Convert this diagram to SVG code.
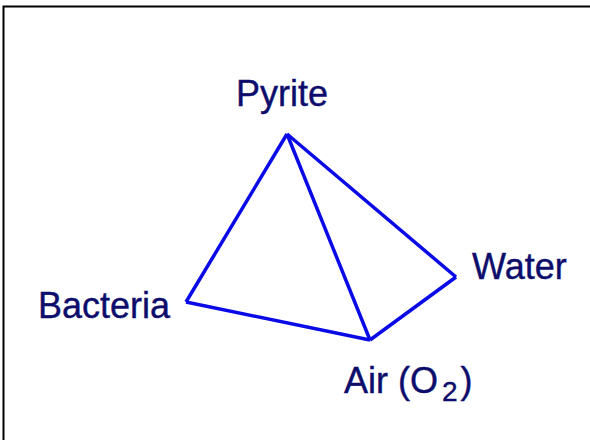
<svg xmlns="http://www.w3.org/2000/svg" width="590" height="440" viewBox="0 0 590 440">
<style>
.lbl{font-family:"Liberation Sans",Arial,sans-serif;font-size:36px;fill:#0d0d6b;stroke:#0d0d6b;stroke-width:0.4}
.edge{stroke:#0a0ae6;stroke-width:3.5;fill:none;stroke-linejoin:miter}
</style>
<rect x="0" y="0" width="590" height="440" fill="#ffffff"/>
<rect x="3.5" y="6.5" width="600" height="450" fill="none" stroke="#000" stroke-width="2"/>
<g id="connectors">
<line class="edge" x1="287" y1="134" x2="186" y2="302"/>
<line class="edge" x1="186" y1="302" x2="370" y2="340"/>
<line class="edge" x1="287" y1="134" x2="370" y2="340"/>
<line class="edge" x1="287" y1="134" x2="456" y2="277"/>
<line class="edge" x1="456" y1="277" x2="370" y2="340"/>
</g>
<g id="pyrite"><text class="lbl" x="236" y="106">Pyrite</text></g>
<g id="bacteria"><text class="lbl" x="38" y="318">Bacteria</text></g>
<g id="water"><text class="lbl" x="472" y="279">Water</text></g>
<g id="air"><text class="lbl" x="344" y="393">Air (O<tspan dx="4" dy="8" font-size="28">2</tspan><tspan dx="3" dy="-8">)</tspan></text></g>
</svg>
